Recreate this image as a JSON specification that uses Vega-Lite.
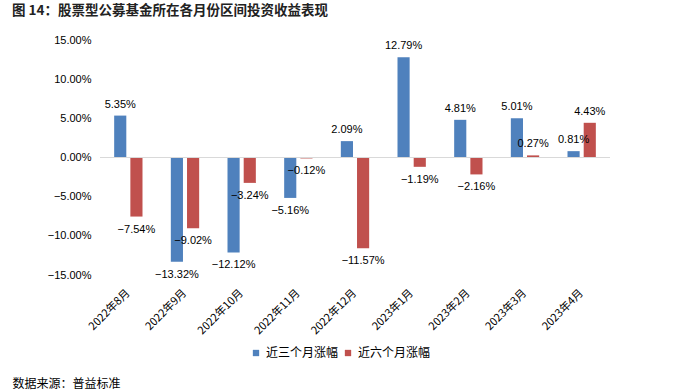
{
  "$schema": "https://vega.github.io/schema/vega-lite/v6.json",
  "autosize": "none",
  "width": 510,
  "height": 235,
  "padding": {"left": 100, "top": 40, "right": 65, "bottom": 116},
  "background": "white",
  "title": {
    "text": "图 14：股票型公募基金所在各月份区间投资收益表现",
    "anchor": "start",
    "frame": "group",
    "dx": -88,
    "offset": 17,
    "font": "Noto Sans CJK SC",
    "fontSize": 13.5,
    "fontWeight": "bold",
    "color": "#222222"
  },
  "config": {
    "view": {"stroke": null},
    "font": "Liberation Sans"
  },
  "data": {
    "values": [
      {"month": "2022年8月", "series": "近三个月涨幅", "v": 0.0535},
      {"month": "2022年8月", "series": "近六个月涨幅", "v": -0.0754},
      {"month": "2022年9月", "series": "近三个月涨幅", "v": -0.1332},
      {"month": "2022年9月", "series": "近六个月涨幅", "v": -0.0902},
      {"month": "2022年10月", "series": "近三个月涨幅", "v": -0.1212},
      {"month": "2022年10月", "series": "近六个月涨幅", "v": -0.0324},
      {"month": "2022年11月", "series": "近三个月涨幅", "v": -0.0516},
      {"month": "2022年11月", "series": "近六个月涨幅", "v": -0.0012},
      {"month": "2022年12月", "series": "近三个月涨幅", "v": 0.0209},
      {"month": "2022年12月", "series": "近六个月涨幅", "v": -0.1157},
      {"month": "2023年1月", "series": "近三个月涨幅", "v": 0.1279},
      {"month": "2023年1月", "series": "近六个月涨幅", "v": -0.0119},
      {"month": "2023年2月", "series": "近三个月涨幅", "v": 0.0481},
      {"month": "2023年2月", "series": "近六个月涨幅", "v": -0.0216},
      {"month": "2023年3月", "series": "近三个月涨幅", "v": 0.0501},
      {"month": "2023年3月", "series": "近六个月涨幅", "v": 0.0027},
      {"month": "2023年4月", "series": "近三个月涨幅", "v": 0.0081},
      {"month": "2023年4月", "series": "近六个月涨幅", "v": 0.0443}
    ]
  },
  "encoding": {
    "x": {
      "field": "month",
      "type": "nominal",
      "sort": null,
      "scale": {"paddingInner": 0.5, "paddingOuter": 0.25},
      "axis": {
        "title": "数据来源：普益标准",
        "titleFont": "Noto Sans CJK SC",
        "titleFontSize": 12,
        "titleFontWeight": "normal",
        "titleColor": "#000000",
        "titleAnchor": "start",
        "titleAlign": "left",
        "titleBaseline": "middle",
        "titleX": -88,
        "titleY": 108,
        "domain": false,
        "ticks": false,
        "labelAngle": -45,
        "labelAlign": "right",
        "labelBaseline": "middle",
        "labelPadding": 16,
        "labelFont": "Noto Sans CJK SC",
        "labelFontSize": 11,
        "labelColor": "#000000"
      }
    },
    "xOffset": {
      "field": "series",
      "type": "nominal",
      "sort": ["近三个月涨幅", "近六个月涨幅"],
      "scale": {"paddingInner": 0.25, "paddingOuter": 0}
    },
    "y": {
      "field": "v",
      "type": "quantitative",
      "scale": {"domain": [-0.15, 0.15], "nice": false},
      "axis": {
        "title": null,
        "format": ".2%",
        "values": [-0.15, -0.1, -0.05, 0, 0.05, 0.1, 0.15],
        "grid": false,
        "domain": false,
        "ticks": false,
        "labelPadding": 9,
        "labelFontSize": 11,
        "labelColor": "#000000"
      }
    }
  },
  "layer": [
    {
      "mark": {"type": "bar"},
      "encoding": {
        "color": {
          "field": "series",
          "type": "nominal",
          "sort": ["近三个月涨幅", "近六个月涨幅"],
          "scale": {"domain": ["近三个月涨幅", "近六个月涨幅"], "range": ["#4F81BD", "#C0504D"]},
          "legend": {
            "title": null,
            "orient": "none",
            "direction": "horizontal",
            "legendX": 150,
            "legendY": 307,
            "symbolType": "square",
            "symbolSize": 40,
            "symbolStrokeWidth": 0,
            "labelFont": "Noto Sans CJK SC",
            "labelFontSize": 12,
            "labelColor": "#000000",
            "labelOffset": 4,
            "columnPadding": 3
          }
        }
      }
    },
    {
      "mark": {"type": "rule", "color": "#D9D9D9", "strokeWidth": 1},
      "encoding": {"y": {"datum": 0}, "x": {}, "xOffset": {}}
    },
    {
      "transform": [{"filter": "datum.v >= 0"}],
      "mark": {"type": "text", "baseline": "bottom", "dy": -6, "fontSize": 11, "color": "#000000"},
      "encoding": {"text": {"field": "v", "type": "quantitative", "format": ".2%"}}
    },
    {
      "transform": [{"filter": "datum.v < 0"}],
      "mark": {"type": "text", "baseline": "top", "dy": 7, "fontSize": 11, "color": "#000000"},
      "encoding": {"text": {"field": "v", "type": "quantitative", "format": ".2%"}}
    }
  ]
}
